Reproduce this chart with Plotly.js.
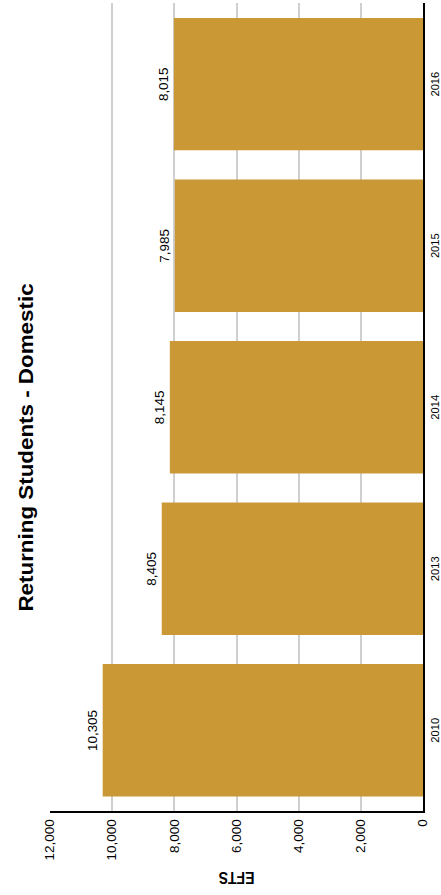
<!DOCTYPE html>
<html>
<head>
<meta charset="utf-8">
<script src="https://cdn.plot.ly/plotly-3.0.1.min.js"></script>
<style>
  html, body { margin: 0; padding: 0; width: 441px; height: 895px; overflow: hidden; background: #ffffff; }
  #chart { position: absolute; left: 0; top: 0; width: 800px; height: 441px;
           transform-origin: 0 0; transform: translate(0px, 895px) rotate(-90deg) scaleX(1.11875); }
</style>
</head>
<body>
<div id="chart"></div>
<script>
const years = ['2010', '2013', '2014', '2015', '2016'];
const efts = [10305, 8405, 8145, 7985, 8015];
const chartTitle = 'Returning Students - Domestic';
const yTitle = 'EFTS';
const barColor = '#CA9834';
const fontFamily = 'Liberation Sans, Arial, sans-serif';

const trace = {
  type: 'bar',
  x: years,
  y: efts,
  marker: { color: barColor, line: { width: 0 } },
  texttemplate: '%{y:,}',
  textposition: 'outside',
  textangle: 0,
  textfont: { family: fontFamily, size: 12, color: '#000000' },
  cliponaxis: false,
  hoverinfo: 'none'
};

const layout = {
  width: 800,
  height: 441,
  margin: { l: 75, r: 3, t: 50, b: 18 },
  paper_bgcolor: '#ffffff',
  plot_bgcolor: '#ffffff',
  font: { family: fontFamily, color: '#000000' },
  showlegend: false,
  bargap: 0.18,
  title: {
    text: '<b>' + chartTitle + '</b>',
    font: { family: fontFamily, size: 20, color: '#000000' },
    xref: 'container', x: 0.5, xanchor: 'center',
    yref: 'container', y: 0.94, yanchor: 'middle'
  },
  xaxis: {
    type: 'category',
    showgrid: false,
    showline: true,
    linecolor: '#000000',
    linewidth: 1.5,
    ticks: '',
    ticklabelstandoff: 3,
    layer: 'below traces',
    tickfont: { family: fontFamily, size: 10, color: '#000000' },
    automargin: false
  },
  yaxis: {
    range: [0, 12000],
    dtick: 2000,
    tickformat: ',d',
    showgrid: true,
    gridcolor: '#cfcfcf',
    gridwidth: 2,
    zeroline: false,
    showline: true,
    linecolor: '#000000',
    linewidth: 2,
    ticks: '',
    ticklabelstandoff: 3,
    layer: 'below traces',
    tickfont: { family: fontFamily, size: 12, color: '#000000' },
    title: { text: '<b>' + yTitle + '</b>', font: { family: fontFamily, size: 14, color: '#000000' }, standoff: 6 },
    automargin: false
  }
};

Plotly.newPlot('chart', [trace], layout, { staticPlot: true, displayModeBar: false });
</script>
</body>
</html>
